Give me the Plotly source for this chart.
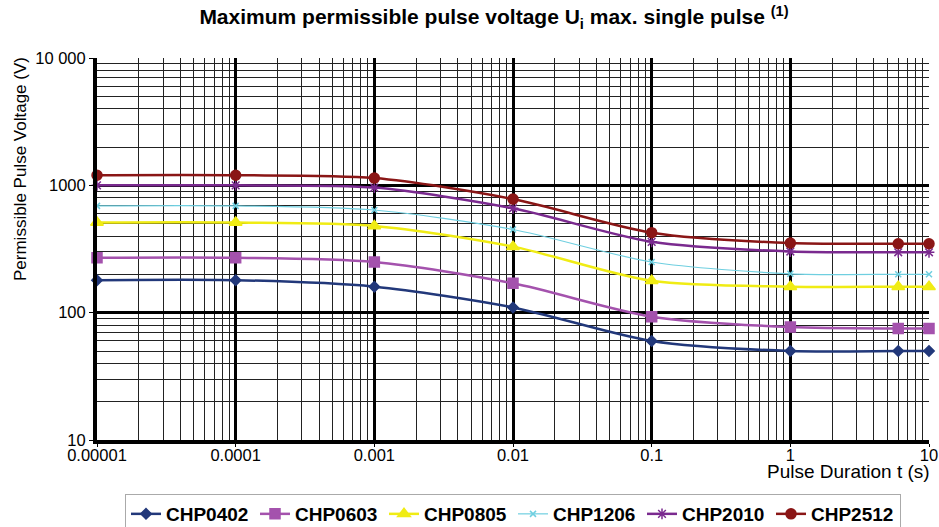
import plotly.graph_objects as go

pulse_duration = [1e-5, 1e-4, 1e-3, 1e-2, 1e-1, 1, 6, 10]
series_names = ["CHP0402", "CHP0603", "CHP0805", "CHP1206", "CHP2010", "CHP2512"]
chp0402 = [180, 180, 160, 110, 60, 50, 50, 50]
chp0603 = [270, 270, 250, 170, 93, 77, 75, 75]
chp0805 = [510, 510, 480, 330, 178, 160, 160, 160]
chp1206 = [690, 690, 640, 450, 250, 202, 200, 200]
chp2010 = [1000, 1000, 960, 660, 360, 302, 298, 298]
chp2512 = [1200, 1200, 1140, 780, 425, 352, 348, 348]

x_tickvals = [1e-5, 1e-4, 1e-3, 1e-2, 1e-1, 1, 10]
x_ticktext = ["0.00001", "0.0001", "0.001", "0.01", "0.1", "1", "10"]
y_tickvals = [10, 100, 1000, 10000]
y_ticktext = ["10", "100", "1000", "10 000"]

colors = ["#22387a", "#a452ad", "#f0ec14", "#6fcfe0", "#7a2a8f", "#8a1616"]
symbols = ["diamond", "square", "triangle-up", "x-thin", "asterisk", "circle"]
sizes = [8, 10, 11, 6, 9, 10]
widths = [2.5, 2.5, 2.5, 1.2, 2.5, 2.5]
values = [chp0402, chp0603, chp0805, chp1206, chp2010, chp2512]

REG = "Liberation Sans, Arial, Helvetica, sans-serif"

fig = go.Figure()
for name, vals, c, s, sz, w in zip(series_names, values, colors, symbols, sizes, widths):
    fig.add_trace(go.Scatter(
        x=pulse_duration, y=vals, name=name, mode="lines+markers", cliponaxis=False,
        line=dict(color=c, width=w, shape="spline", smoothing=0.8),
        marker=dict(symbol=s, size=sz, color=c, line=dict(color=c, width=1.5)),
    ))

fig.update_layout(
    width=939, height=527,
    margin=dict(l=97, r=10, t=58, b=87, autoexpand=False),
    paper_bgcolor="white", plot_bgcolor="white",
    font=dict(family=REG, color="black", size=16),
    title=dict(
        text="<b>Maximum permissible pulse voltage U<sub>i</sub> max. single pulse <sup>(1)</sup></b>",
        x=(494 - 97) / 832, xref="paper", xanchor="center", y=1 - 17 / 527, yref="container",
        yanchor="middle", font=dict(size=21), automargin=False),
    legend=dict(orientation="h", x=(513 - 97) / 832, xanchor="center", y=-(494 - 440) / 382,
                yanchor="top", bordercolor="#aaaaaa", borderwidth=1,
                font=dict(size=19, family=REG, weight="bold"),
                itemwidth=30, entrywidth=84, entrywidthmode="pixels", tracegroupgap=0),
    showlegend=True,
)

fig.update_xaxes(
    type="log", range=[-5, 1], tickvals=x_tickvals, ticktext=x_ticktext,
    showgrid=True, gridcolor="black", gridwidth=2.5,
    minor=dict(dtick="D1", showgrid=True, gridcolor="#222222", gridwidth=1.3, ticks=""),
    showline=True, linecolor="black", linewidth=4, mirror=False,
    ticks="outside", ticklen=3, tickcolor="black", tickfont=dict(size=16.5),
    ticklabelstandoff=-6,
    zeroline=False, automargin=False,
)
fig.update_yaxes(
    type="log", range=[1, 4], tickvals=y_tickvals, ticktext=y_ticktext,
    showgrid=True, gridcolor="black", gridwidth=2.5,
    minor=dict(dtick="D1", showgrid=True, gridcolor="#222222", gridwidth=1.3, ticks=""),
    showline=True, linecolor="black", linewidth=4, mirror=False,
    ticks="outside", ticklen=4, tickcolor="black", tickfont=dict(size=16.5),
    zeroline=False, automargin=False,
)

fig.add_annotation(text="Permissible Pulse Voltage (V)", xref="paper", yref="paper",
                   x=-(97 - 20) / 832, y=(440 - 169) / 382, xanchor="center", yanchor="middle",
                   textangle=-90, showarrow=False, font=dict(size=17))
fig.add_annotation(text="Pulse Duration t (s)", xref="paper", yref="paper",
                   x=1.0, y=-(471 - 440) / 382, xanchor="right", yanchor="middle", showarrow=False,
                   xshift=3, font=dict(size=19))

fig.write_html("out.html", config={"displayModeBar": False},
               post_script="document.body.style.margin='0px';")
